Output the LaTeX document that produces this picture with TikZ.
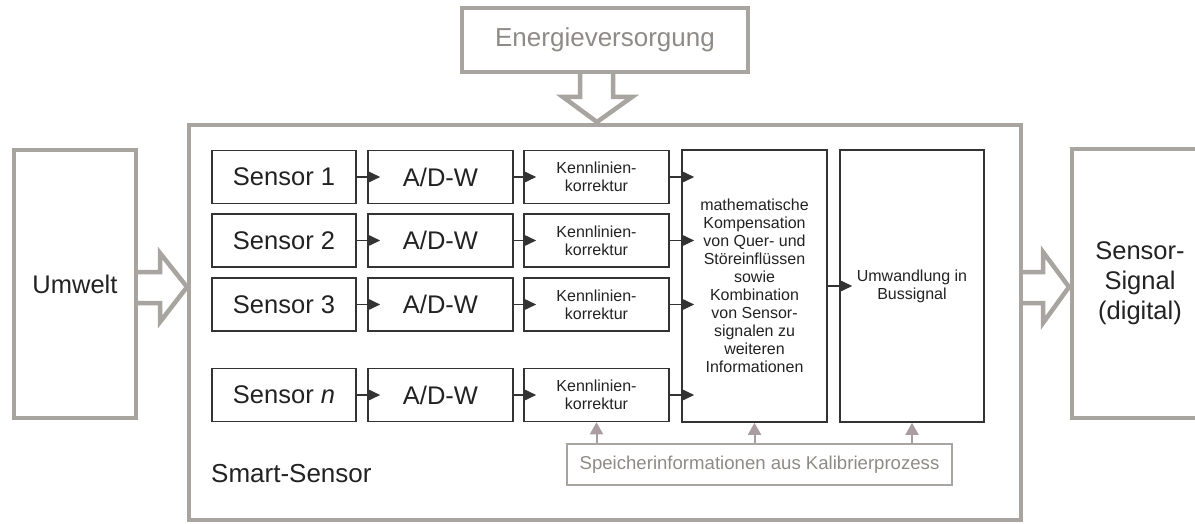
\documentclass[tikz,border=0pt]{standalone}
\usepackage{fontspec}
\setmainfont{Liberation Sans}
\usetikzlibrary{arrows.meta}
\usetikzlibrary{positioning,calc}
\definecolor{framegray}{HTML}{A8A4A0}
\definecolor{linedark}{HTML}{333333}
\definecolor{ink}{HTML}{222222}
\definecolor{mauve}{HTML}{A99DA1}
\definecolor{softtext}{HTML}{8E8A88}
\tikzset{
    outer/.style={
        draw=framegray,
        line width=4.5pt,
        inner sep=0pt,
        align=center,
        text=ink,
        font=\fontsize{25.5}{30}\selectfont
    },
    block/.style={
        draw=linedark,
        line width=1.6pt,
        inner sep=0pt,
        minimum height=53pt,
        align=center,
        text=ink,
        font=\fontsize{25.5}{30}\selectfont
    },
    small/.style={font=\fontsize{16}{18}\selectfont},
    flow/.style={
        draw=linedark,
        line width=1.6pt,
        -{Triangle[length=13pt, width=12pt]},
        shorten >=-13pt
    },
    calib/.style={
        draw=mauve,
        line width=2pt,
        -{Triangle[length=12pt, width=13pt]}
    },
    hollow/.style={draw=framegray, line width=4.5pt, line join=miter}
}

\begin{document}
\begin{tikzpicture}[x=1pt, y=-1pt]
  \useasboundingbox (0,0) rectangle (1195,524);
  \clip (0,0) rectangle (1195,524);

  % Outer parts
  \node[outer, minimum width=832pt, minimum height=395pt] (sys) at (605,322.5) {};
  \node[outer, minimum width=286pt, minimum height=64pt, text=softtext,
        font=\fontsize{26}{30}\selectfont] (energy) at (605,40) {Energieversorgung};
  \node[outer, minimum width=122pt, minimum height=268pt] (umwelt) at (75,284) {Umwelt};
  \node[outer, minimum width=136pt, minimum height=269pt] (signal) at (1140,283.5) {Sensor-\\Signal\\(digital)};

  % Hollow arrows
  \draw[hollow] (580,72) -- (580,97) -- (563,97) -- (597,122) -- (632,97) -- (613,97) -- (613,72);
  \draw[hollow] (136,272) -- (160,272) -- (160,253) -- (187,287) -- (160,322) -- (160,303) -- (136,303);
  \draw[hollow] (1021,272) -- (1043,272) -- (1043,252) -- (1069,287) -- (1043,323) -- (1043,303) -- (1021,303);

  % Sensor rows
  \foreach \i/\lbl/\y in {1/1/177, 2/2/240.5, 3/3/304.5, n/\textit{n}/395} {
    \node[block, minimum width=144pt] (s\i) at (284,\y) {Sensor \lbl};
    \node[block, minimum width=145pt] (a\i) at (440.5,\y) {A/D-W};
    \node[block, small, minimum width=145pt] (k\i) at (596.5,\y) {Kennlinien-\\korrektur};
  }

  % Processing
  \node[block, small, minimum width=145pt, minimum height=272pt] (math) at (754.5,286)
    {mathematische\\Kompensation\\von Quer- und\\Störeinflüssen\\sowie\\Kombination\\von Sensor-\\signalen zu\\weiteren\\Informationen};
  \node[block, small, minimum width=144pt, minimum height=272pt] (umw) at (912,286) {Umwandlung in\\Bussignal};

  % Calibration memory
  \node[draw=framegray, line width=2pt, minimum width=385pt, minimum height=41pt, inner sep=0pt,
        text=softtext, font=\fontsize{18.6}{22}\selectfont] (spei) at (759.5,464.5)
    {Speicherinformationen aus Kalibrierprozess};

  \node[anchor=west, text=ink, font=\fontsize{26}{30}\selectfont, inner sep=0pt] (label) at (211,474) {Smart-Sensor};

  % Signal flow
  \foreach \i in {1,2,3,n} {
    \draw[flow] (s\i) -- (a\i);
    \draw[flow] (a\i) -- (k\i);
    \draw[flow] (k\i.east) -- (k\i.east -| math.west);
  }
  \draw[flow] (math.east) -- (math.east -| umw.west);

  \foreach \n in {kn, math, umw}
    \draw[calib] (\n.south |- spei.north) -- (\n.south);
\end{tikzpicture}
\end{document}
